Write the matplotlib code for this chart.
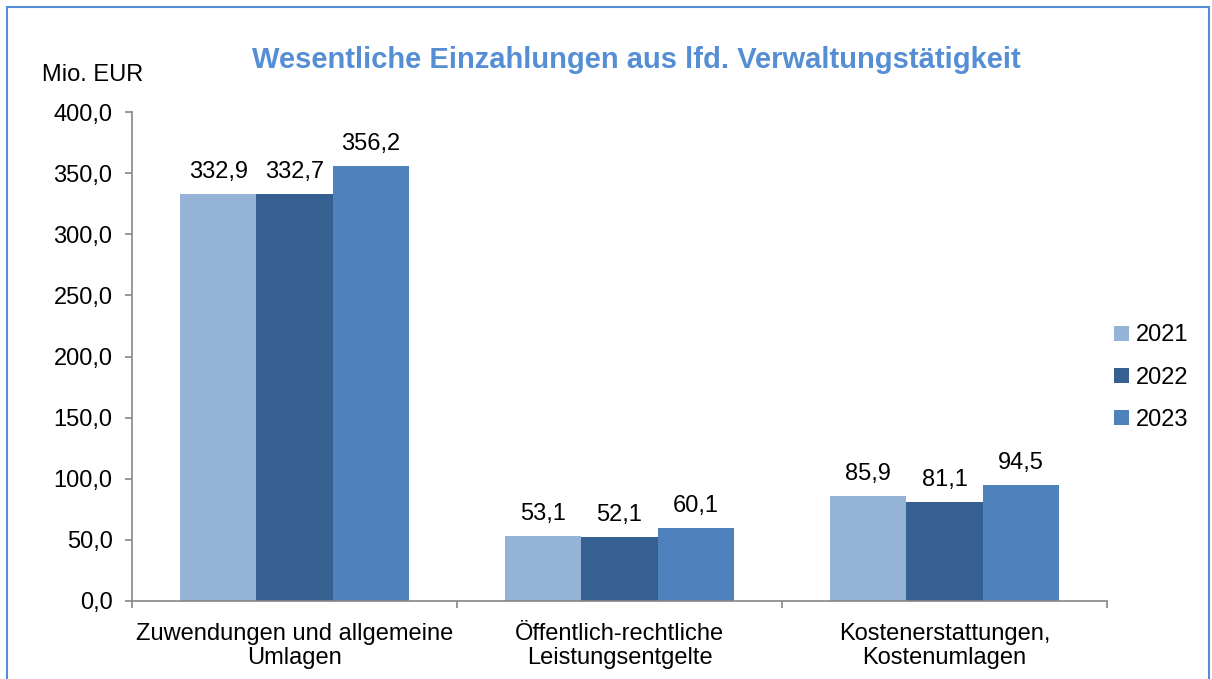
import matplotlib
matplotlib.use("Agg")
import matplotlib.pyplot as plt
from matplotlib.patches import Rectangle
from matplotlib.ticker import FuncFormatter
import numpy as np

plt.rcParams['font.family'] = ['Liberation Sans', 'DejaVu Sans']

categories = ["Zuwendungen und allgemeine\nUmlagen",
              "Öffentlich-rechtliche\nLeistungsentgelte",
              "Kostenerstattungen,\nKostenumlagen"]
years = ["2021", "2022", "2023"]
values_2021 = [332.9, 53.1, 85.9]
values_2022 = [332.7, 52.1, 81.1]
values_2023 = [356.2, 60.1, 94.5]
series = [values_2021, values_2022, values_2023]
colors = ["#95B3D7", "#376092", "#4F81BD"]

W, H = 1212, 679
fig = plt.figure(figsize=(W/100, H/100), dpi=100)
ax = fig.add_axes([132/W, 1-601/H, (1107-132)/W, (601-112)/H])

x = np.arange(len(categories))
bw = 0.235
for i, (vals, col, yr) in enumerate(zip(series, colors, years)):
    pos = x + (i-1)*bw
    ax.bar(pos, vals, width=bw, color=col, label=yr, edgecolor='none', zorder=2)
    for p, v in zip(pos, vals):
        ax.text(p, v + 9, f"{v:.1f}".replace('.', ','), ha='center', va='bottom', fontsize=17)

ax.set_xlim(-0.5, 2.5)
ax.set_ylim(0, 400)
ax.set_yticks(np.arange(0, 401, 50))
ax.yaxis.set_major_formatter(FuncFormatter(lambda v, p: f"{v:.1f}".replace('.', ',')))
ax.set_xticks([-0.5, 0.5, 1.5, 2.5])
ax.set_xticklabels([])
ax.set_xticks(x, minor=True)
ax.set_xticklabels(categories, minor=True, fontsize=17, linespacing=1.12)
ax.tick_params(axis='x', which='minor', length=0, pad=16)
ax.tick_params(axis='x', which='major', length=5, color='#868686', width=1.2, direction='out')
ax.tick_params(axis='y', length=5, color='#868686', width=1.2, labelsize=17, pad=9)
for s in ['top', 'right']:
    ax.spines[s].set_visible(False)
for s in ['left', 'bottom']:
    ax.spines[s].set_color('#868686')
    ax.spines[s].set_linewidth(1.2)

fig.text(636/W, 1-60/H, "Wesentliche Einzahlungen aus lfd. Verwaltungstätigkeit",
         ha='center', va='center', fontsize=21, fontweight='bold', color='#558ED5')
fig.text(42/W, 1-75/H, "Mio. EUR", ha='left', va='center', fontsize=17)

fig.legend(loc='upper left', bbox_to_anchor=(1105/W, 1-315/H), frameon=False,
           fontsize=17, handlelength=0.6, handleheight=0.6, handletextpad=0.3,
           labelspacing=0.85, borderaxespad=0)

fig.patches.append(Rectangle((7/W, -0.05), (1209-7)/W, 1.05-7/H, transform=fig.transFigure,
                             fill=False, edgecolor='#558ED5', linewidth=1.5, clip_on=False))

fig.savefig("out.png", dpi=100)
